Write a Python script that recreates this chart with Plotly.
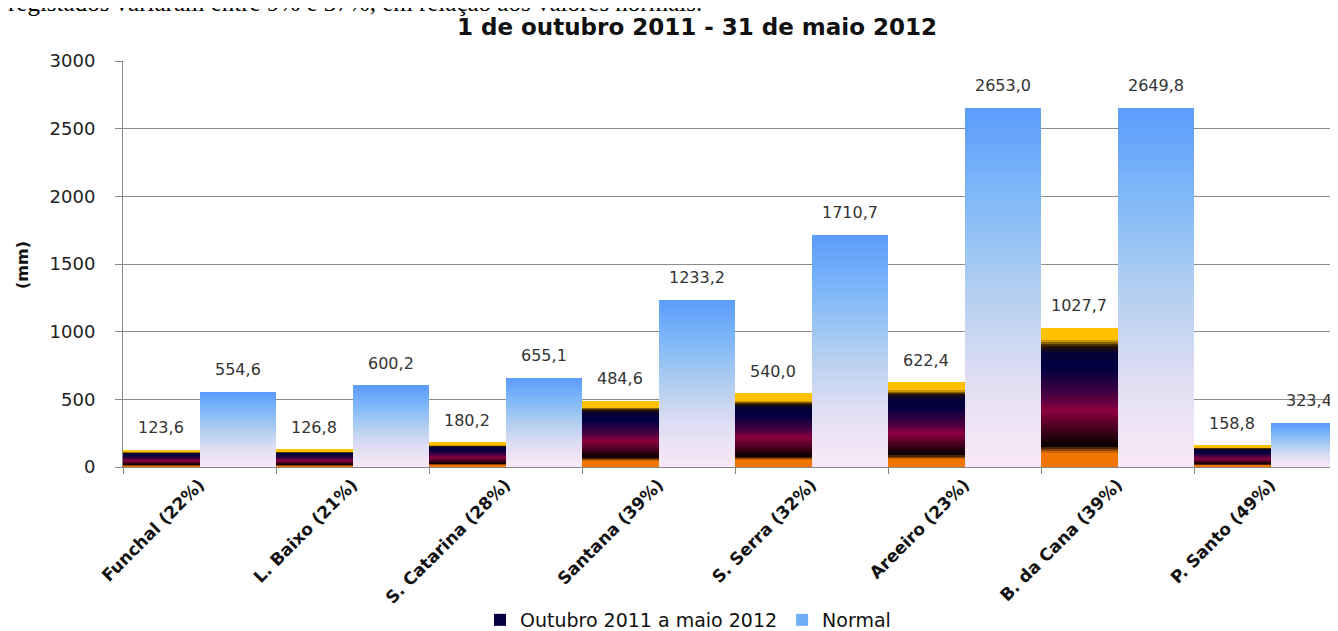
import plotly.graph_objects as go

categories = ["Funchal (22%)", "L. Baixo (21%)", "S. Catarina (28%)", "Santana (39%)",
              "S. Serra (32%)", "Areeiro (23%)", "B. da Cana (39%)", "P. Santo (49%)"]
obs_values = [123.6, 126.8, 180.2, 484.6, 540.0, 622.4, 1027.7, 158.8]
normal_values = [554.6, 600.2, 655.1, 1233.2, 1710.7, 2653.0, 2649.8, 323.4]
obs_name = "Outubro 2011 a maio 2012"
normal_name = "Normal"
y_ticks = [0, 500, 1000, 1500, 2000, 2500, 3000]
title_text = "1 de outubro 2011 - 31 de maio 2012"
top_text = "registados variaram entre 9% e 37%, em relação aos valores normais."

# gradient stops (fraction from bottom -> rgb)
fire_stops = [(0.0, (240, 118, 0)), (0.10, (240, 118, 0)), (0.15, (10, 0, 0)),
              (0.22, (40, 0, 15)), (0.40, (140, 0, 64)), (0.52, (70, 0, 64)),
              (0.62, (35, 0, 64)), (0.72, (0, 0, 64)), (0.82, (5, 0, 55)),
              (0.87, (40, 20, 0)), (0.92, (255, 192, 0)), (1.0, (255, 192, 0))]
blue_stops = [(0.0, (250, 232, 247)), (0.25, (224, 222, 243)), (0.5, (176, 206, 240)),
              (0.75, (128, 184, 248)), (1.0, (92, 156, 251))]


def interp(stops, f):
    for (f0, c0), (f1, c1) in zip(stops[:-1], stops[1:]):
        if f0 <= f <= f1:
            t = 0 if f1 == f0 else (f - f0) / (f1 - f0)
            return "rgb(%d,%d,%d)" % tuple(round(a + (b - a) * t) for a, b in zip(c0, c1))
    c = stops[-1][1]
    return "rgb(%d,%d,%d)" % c


N = 70
fig = go.Figure()


def add_series(values, stops, offset, name, legend_k):
    for k in range(N):
        f = (k + 0.5) / N
        h = [v * min(1.6 / N, (N - k) / N) for v in values]
        base = [v * k / N for v in values]
        fig.add_trace(go.Bar(
            x=categories, y=h, base=base, width=0.5, offset=offset,
            marker=dict(color=interp(stops, f), line=dict(width=0)),
            name=name, legendgroup=name, showlegend=(k == legend_k),
            hoverinfo="skip"))


add_series(obs_values, fire_stops, -0.5, obs_name, int(N * 0.7))
add_series(normal_values, blue_stops, 0.0, normal_name, int(N * 0.85))

font_main = "DejaVu Sans"
# page body has an 8px margin; figure is sized/positioned to compensate
FW, FH = 1330, 623
ML, MT, MB = 115, 53, 164
PW, PH = FW - ML, FH - MT - MB
annotations = []
for i, v in enumerate(obs_values):
    annotations.append(dict(x=i - 0.25, y=v, xref="x", yref="y", text=f"{v:.1f}".replace(".", ","),
                            showarrow=False, yanchor="bottom", yshift=11,
                            font=dict(family=font_main, size=16, color="#333333")))
for i, v in enumerate(normal_values):
    annotations.append(dict(x=i + 0.25, y=v, xref="x", yref="y", text=f"{v:.1f}".replace(".", ","),
                            showarrow=False, yanchor="bottom", yshift=11,
                            font=dict(family=font_main, size=16, color="#333333")))
annotations.append(dict(x=-(ML + 2) / PW, y=1 + 59 / PH, xref="paper", yref="paper", text=top_text,
                        showarrow=False, xanchor="left", yanchor="middle",
                        font=dict(family="Liberation Serif", size=25, color="#000000")))
annotations.append(dict(x=-101 / PW, y=1 - 204 / PH, xref="paper", yref="paper", text="(mm)",
                        showarrow=False, textangle=-90, xanchor="center", yanchor="middle",
                        font=dict(family=font_main, size=16, color="#111111", weight="bold")))

fig.update_layout(
    width=FW, height=FH,
    margin=dict(l=ML, r=0, t=MT, b=MB, autoexpand=False),
    paper_bgcolor="white", plot_bgcolor="white",
    barmode="overlay", bargap=0,
    title=dict(text="<b>" + title_text + "</b>", x=689 / FW, xanchor="center",
               y=1 - 19 / FH, yanchor="middle",
               font=dict(family=font_main, size=23, color="#111111")),
    xaxis=dict(type="category", range=[-0.5, 7.5 - 9 / 153], tickson="boundaries",
               ticks="outside", ticklen=6, tickcolor="#888888", showline=True,
               linecolor="#888888", linewidth=1, showgrid=False, tickangle=-45,
               automargin=False,
               tickfont=dict(family=font_main, size=17, color="#111111", weight="bold")),
    yaxis=dict(range=[0, 3000], tickvals=y_ticks, ticks="outside", ticklen=7,
               tickcolor="#888888", showline=True, linecolor="#888888", linewidth=1,
               showgrid=True, gridcolor="#8c8c8c", gridwidth=1, zeroline=False,
               ticklabelstandoff=16, automargin=False,
               tickfont=dict(family=font_main, size=18, color="#222222")),
    legend=dict(orientation="h", x=0.465, xanchor="center", y=-153 / PH, yanchor="middle",
                font=dict(family=font_main, size=19, color="#111111"),
                itemsizing="constant", traceorder="normal"),
    annotations=annotations,
    showlegend=True,
)

fig.write_html("out.html")
